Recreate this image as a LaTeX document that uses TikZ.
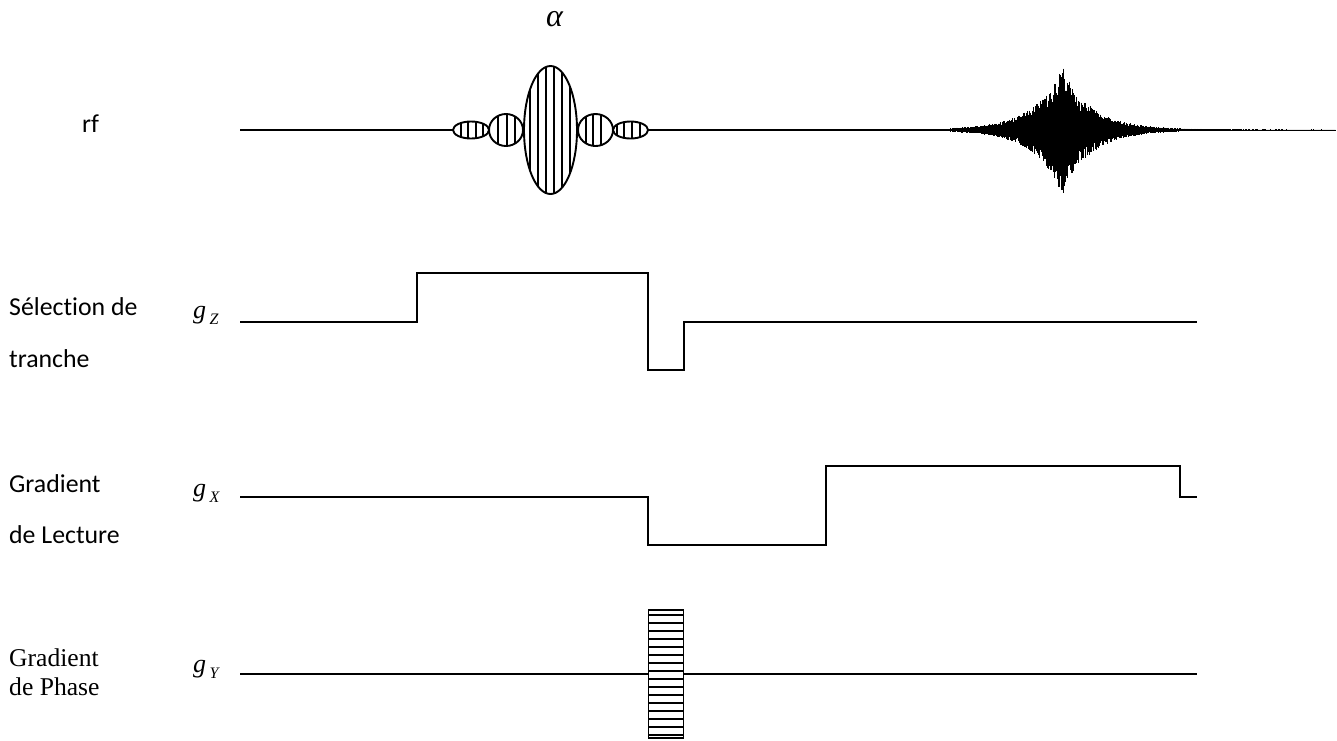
\documentclass[tikz,border=0pt]{standalone}
\usepackage{fontspec}
\setmainfont{Liberation Serif}
\newfontfamily\calfont[Ligatures=NoCommon]{Carlito}
\usetikzlibrary{shapes.geometric}
\tikzset{
  wave/.style={line width=1.9pt,line join=miter},
  stripe/.style={line width=1.9pt},
  lobe/.style={draw,ellipse,line width=1.9pt,inner sep=0pt,outer sep=0pt},
  lab/.style={anchor=base west,inner sep=0pt,font=\calfont\fontsize{25.8}{28}\selectfont},
  serlab/.style={anchor=base west,inner sep=0pt,font=\fontsize{25.6}{28}\selectfont},
  gl/.style={anchor=base west,inner sep=0pt,font=\itshape\fontsize{26}{26}\selectfont},
}
\newcommand{\lobeat}[5]{% name, cx, rx, ry, stripes
  \node[lobe,minimum width=#3*2pt,minimum height=#4*2pt] (#1) at (#2,130) {};
  \begin{scope}
    \clip (#2,130) ellipse ({#3} and {#4});
    \foreach \s in {#5} \draw[stripe] (\s,60) -- (\s,200);
  \end{scope}
}
\newcommand{\gsub}[1]{g\kern3.5pt\raisebox{-6pt}{\fontsize{16}{16}\selectfont #1}}
\begin{document}
\begin{tikzpicture}[x=1pt,y=-1pt]
\useasboundingbox (0,0) rectangle (1337,740);
% rf lobes
\lobeat{la}{471}{18}{8.5}{461,468,476,483}
\lobeat{lb}{506}{17}{16}{498,507,515}
\lobeat{lc}{550.5}{26.5}{64}{530,538,546,554,562,570}
\lobeat{ld}{595.5}{17.5}{16}{586,593,601}
\lobeat{le}{630.5}{17.5}{8.5}{617,624,632,640}
\coordinate (rfstart) at (240,130);
\coordinate (echostart) at (950,130);
\coordinate (rfend) at (1335,130);
\draw[wave] (rfstart) -- (la.west);
\draw[wave] (le.east) -- (echostart);
% echo
\pgfmathsetseed{4217}
\foreach \i in {0,...,770} {
  \pgfmathsetmacro{\ex}{950+\i*0.5}
  \pgfmathsetmacro{\ed}{abs(\ex-1062)}
  \pgfmathsetmacro{\ea}{0.5+60*exp(-\ed/30)+6*exp(-\ed/5)}
  \pgfmathsetmacro{\eu}{\ea*(0.55+0.45*rnd)}
  \pgfmathsetmacro{\el}{\ea*(0.55+0.45*rnd)}
  \draw[line width=0.8pt] (\ex,130-\eu) -- (\ex,130+\el);
}
\draw[line width=1pt] (echostart) -- (rfend);
% gz
\coordinate (z0) at (240,322); \coordinate (z1) at (417,322); \coordinate (z2) at (417,273);
\coordinate (z3) at (648,273); \coordinate (z4) at (648,370); \coordinate (z5) at (684,370);
\coordinate (z6) at (684,322); \coordinate (z7) at (1197,322);
\draw[wave] (z0)--(z1)--(z2)--(z3)--(z4)--(z5)--(z6)--(z7);
% gx
\coordinate (x0) at (240,497); \coordinate (x1) at (648,497); \coordinate (x2) at (648,545);
\coordinate (x3) at (826,545); \coordinate (x4) at (826,466); \coordinate (x5) at (1180,466);
\coordinate (x6) at (1180,497); \coordinate (x7) at (1197,497);
\draw[wave] (x0)--(x1)--(x2)--(x3)--(x4)--(x5)--(x6)--(x7);
% gy
\node[draw,line width=1.9pt,minimum width=35pt,minimum height=128pt,inner sep=0pt,outer sep=0pt] (phase) at (666,674) {};
\coordinate (y0) at (240,674); \coordinate (y1) at (1197,674);
\draw[wave] (y0) -- (phase.west);
\draw[wave] (phase.east) -- (y1);
\foreach \k in {0,...,15}
  \draw[line width=1.4pt] (648,615+\k*8) -- (684,615+\k*8);
% labels
\node[font=\itshape\fontsize{32}{32}\selectfont,inner sep=0pt] (alpha) at (554.5,19) {α};
\node[lab] (rf) at (82,132) {rf};
\node[lab] (sel) at (9,315) {Sélection de};
\node[lab] (tr) at (9,367) {tranche};
\node[lab] (gr) at (9,492) {Gradient};
\node[lab] (lec) at (9,543) {de Lecture};
\node[serlab] (grp) at (9,666) {Gradient};
\node[serlab] (pha) at (9,695) {de Phase};
\node[gl] (gz) at (193,318) {\gsub{Z}};
\node[gl] (gx) at (193,496) {\gsub{X}};
\node[gl] (gy) at (193,672) {\gsub{Y}};
\end{tikzpicture}
\end{document}
